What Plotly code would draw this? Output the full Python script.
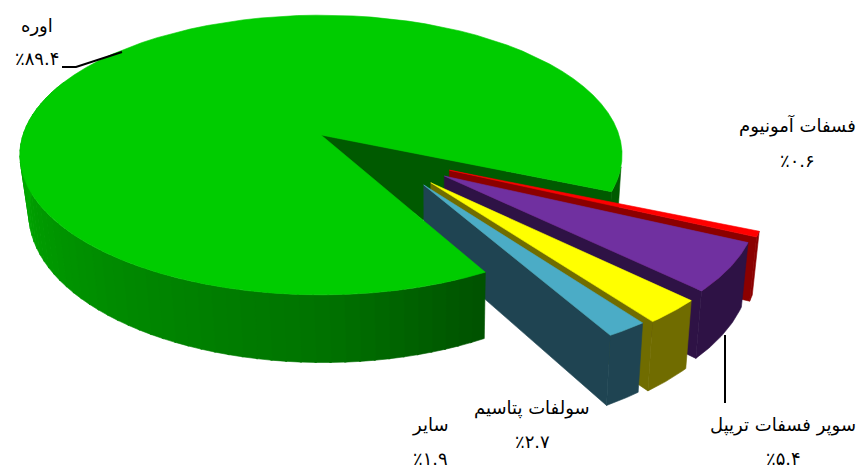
import numpy as np
import plotly.graph_objects as go

# Data
names = ["اوره", "فسفات آمونیوم", "سوپر فسفات تریپل", "سولفات پتاسیم", "سایر"]
values = [89.4, 0.6, 5.4, 2.7, 1.9]
value_labels = ["٪۸۹.۴", "٪۰.۶", "٪۵.۴", "٪۲.۷", "٪۱.۹"]

# Styles
top_colors = ["#00CC00", "#FF0000", "#7030A0", "#FFFF00", "#4BACC6"]
wall_colors = ["#005A00", "#8B0000", "#2E1245", "#706C00", "#1F4452"]
explode_dir = [0, 30.8, 35.9, 43.4, 46.6]
explode_len = [0, 0.484, 0.49, 0.483, 0.477]
radius = [1, 1, 0.985, 0.995, 0.985]
label_xy = [(37, 26, 58), (797, 125, 160), (783, 425, 458), (532, 408, 441), (430, 425, 458)]

# Projection parameters of the tilted disc
AX, AY, RX, RY, P, DEPTH, VX, Q = 321, 135, 298, 137, 0.143, 58, 436, 0.0215
START = 23


def top(X, Y):
    f = 1 / (1 - P * Y)
    return AX + RX * X * f, AY + RY * Y * f


def bottom(X, Y):
    f = 1 / (1 - P * Y)
    x, y = top(X, Y)
    return x + (VX - x) * Q, y + DEPTH * f


fig = go.Figure()


def poly(xs, ys, color):
    fig.add_trace(go.Scatter(x=xs, y=ys, mode="lines", fill="toself", fillcolor=color,
                             line=dict(color=color, width=0.6), hoverinfo="skip", showlegend=False))


def arc(t0, t1, r=1.0, off=(0, 0), n=80):
    t = np.radians(np.linspace(t0, t1, n))
    return off[0] + r * np.cos(t), off[1] + r * np.sin(t)


def top_face(t0, t1, r, off, color):
    X, Y = arc(t0, t1, r, off)
    X = np.r_[off[0], X]
    Y = np.r_[off[1], Y]
    x, y = top(X, Y)
    poly(list(x) + [x[0]], list(y) + [y[0]], color)


def band(X, Y, color):
    x0, y0 = top(X, Y)
    x1, y1 = bottom(X, Y)
    poly(list(x0) + list(x1[::-1]) + [x0[0]], list(y0) + list(y1[::-1]) + [y0[0]], color)


def green_shade(t):
    # brightness of the green outer wall, front-right dark to left light
    return int(np.interp(t, [58, 90, 130, 180, 200], [78, 115, 140, 172, 175]))


sweep = [v / sum(values) * 360 for v in values]
edges = np.r_[START, START + np.cumsum(sweep[1:])]  # small slices, clockwise on screen
g_start, g_end = edges[-1], START + 360

# Green: inner wall and right-hand outer wall sit behind the pulled slices
band(*arc(13, START, n=20), wall_colors[0])
band(np.array([0.0, np.cos(np.radians(START))]), np.array([0.0, np.sin(np.radians(START))]), wall_colors[0])
top_face(START, g_start, 0.65, (0, 0), wall_colors[0])

# Pulled slices, back to front
for i in range(1, 5):
    t0, t1 = edges[i - 1], edges[i]
    d = np.radians(explode_dir[i])
    off = (explode_len[i] * np.cos(d), explode_len[i] * np.sin(d))
    r = radius[i]
    band(*arc(t0, t1, r, off, n=30), wall_colors[i])
    ex, ey = arc(t1, t1, r, off, n=1)
    band(np.array([off[0], ex[0]]), np.array([off[1], ey[0]]), wall_colors[i])
    top_face(t0, t1, r, off, top_colors[i])

# Green: front wall in shaded strips, then the top
steps = np.arange(g_start, 205, 2.5)
for a, b in zip(steps[:-1], steps[1:]):
    g = green_shade((a + b) / 2)
    band(*arc(a, b + 0.3, n=5), f"rgb(0,{g},0)")
top_face(g_start, g_end, 1, (0, 0), top_colors[0])

# Leader lines
fig.add_trace(go.Scatter(x=[62, 76, 122], y=[67, 67, 52], mode="lines",
                         line=dict(color="black", width=2), hoverinfo="skip", showlegend=False))
fig.add_trace(go.Scatter(x=[725, 725], y=[335, 403], mode="lines",
                         line=dict(color="black", width=2), hoverinfo="skip", showlegend=False))

for name, val, (lx, y1, y2) in zip(names, value_labels, label_xy):
    for txt, ly in ((name, y1), (val, y2)):
        fig.add_annotation(x=lx, y=ly, text=txt, showarrow=False,
                           font=dict(family="DejaVu Sans", size=18, color="black"))

fig.update_layout(width=859, height=468, margin=dict(l=0, r=0, t=0, b=0),
                  paper_bgcolor="white", plot_bgcolor="white", showlegend=False,
                  xaxis=dict(range=[0, 859], visible=False, fixedrange=True),
                  yaxis=dict(range=[468, 0], visible=False, fixedrange=True))
fig.write_html("out.html", config={"displayModeBar": False},
               post_script="document.body.style.margin='0';")
